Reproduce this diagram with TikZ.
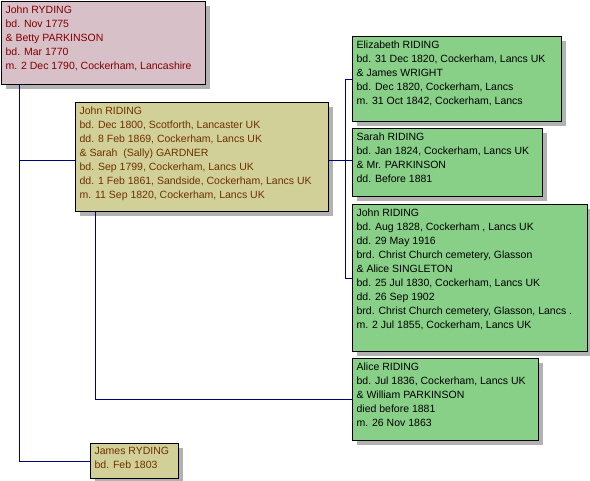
\documentclass[tikz,border=0pt]{standalone}
\usepackage{fontspec}
\setmainfont{Liberation Sans}
\usetikzlibrary{shadows}
\definecolor{parentcol}{RGB}{216,192,200}
\definecolor{parenttxt}{RGB}{128,0,0}
\definecolor{couplecol}{RGB}{208,208,152}
\definecolor{coupletxt}{RGB}{112,48,0}
\definecolor{childcol}{RGB}{136,208,136}
\definecolor{linkcol}{RGB}{0,0,128}
\newcommand{\famtext}[3]{\parbox[c][#2pt][t]{#1pt}{\raggedright #3}}
\tikzset{
  fam/.style={draw=black,line width=1.2pt,rectangle,anchor=north west,inner xsep=4pt,inner ysep=4pt,
    font=\fontsize{10.5}{14}\selectfont,
    drop shadow={shadow xshift=4pt,shadow yshift=-4pt,fill=black!30,opacity=1}},
  parentbox/.style={fam,fill=parentcol,text=parenttxt},
  couplebox/.style={fam,fill=couplecol,text=coupletxt},
  childbox/.style={fam,fill=childcol,text=black},
  link/.style={draw=linkcol,line width=0.9pt},
}

\begin{document}
\begin{tikzpicture}[x=1pt,y=-1pt]
  \useasboundingbox (0,0) rectangle (590,481);
  % connectors first, boxes on top
  \coordinate (trunk) at (19,84);
  \coordinate (bus) at (345,160);
  \coordinate (drop) at (95,211);
  \node[parentbox] (john1775) at (1,1) {\famtext{196}{75}{John RYDING\\bd. Nov 1775\\\& Betty PARKINSON\\bd. Mar 1770\\m. 2 Dec 1790, Cockerham, Lancashire}};
  \node[couplebox] (john1800) at (75,102) {\famtext{245}{101}{John RIDING\\bd. Dec 1800, Scotforth, Lancaster UK\\dd. 8 Feb 1869, Cockerham, Lancs UK\\\& Sarah\ \ (Sally) GARDNER\\bd. Sep 1799, Cockerham, Lancs UK\\dd. 1 Feb 1861, Sandside, Cockerham, Lancs UK\\m. 11 Sep 1820, Cockerham, Lancs UK}};
  \node[couplebox] (james) at (90,443) {\famtext{80}{27}{James RYDING\\bd. Feb 1803}};
  \node[childbox] (eliz) at (352,36) {\famtext{201}{77}{Elizabeth RIDING\\bd. 31 Dec 1820, Cockerham, Lancs UK\\\& James WRIGHT\\bd. Dec 1820, Cockerham, Lancs\\m. 31 Oct 1842, Cockerham, Lancs}};
  \node[childbox] (sarah) at (352,128) {\famtext{182}{60}{Sarah RIDING\\bd. Jan 1824, Cockerham, Lancs UK\\\& Mr. PARKINSON\\dd. Before 1881}};
  \node[childbox] (john1828) at (352,204) {\famtext{227}{139}{John RIDING\\bd. Aug 1828, Cockerham , Lancs UK\\dd. 29 May 1916\\brd. Christ Church cemetery, Glasson\\\& Alice SINGLETON\\bd. 25 Jul 1830, Cockerham, Lancs UK\\dd. 26 Sep 1902\\brd. Christ Church cemetery, Glasson, Lancs .\\m. 2 Jul 1855, Cockerham, Lancs UK}};
  \node[childbox] (alice) at (352,358) {\famtext{178}{74}{Alice RIDING\\bd. Jul 1836, Cockerham, Lancs UK\\\& William PARKINSON\\died before 1881\\m. 26 Nov 1863}};
  % lines
  \draw[link] (john1775.south west -| trunk) |- (james.west);
  \draw[link] (trunk |- bus) -- (john1800.west |- bus);
  \draw[link] (john1800.east |- bus) -- (bus);
  \draw[link] (bus |- eliz.west) -- (bus |- john1828.west);
  \draw[link] (bus |- eliz.west) -- (eliz.west);
  \draw[link] (bus) -- (sarah.west |- bus);
  \draw[link] (bus |- john1828.west) -- (john1828.west);
  \draw[link] (john1800.south -| drop) |- (alice.west);
\end{tikzpicture}
\end{document}
